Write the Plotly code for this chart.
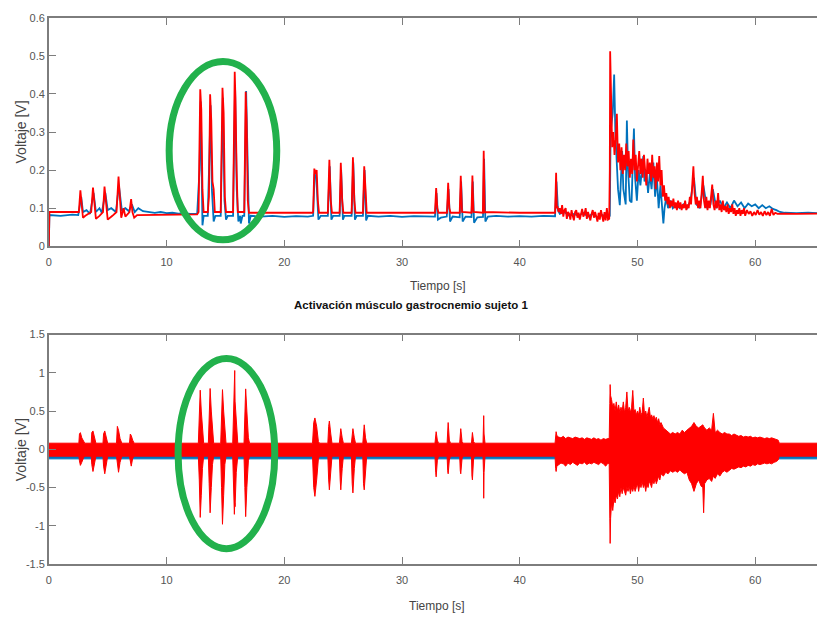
import plotly.graph_objects as go

# ---------------- data ----------------
x_ticks = [0, 10, 20, 30, 40, 50, 60]
y_ticks_top = [0, 0.1, 0.2, 0.3, 0.4, 0.5, 0.6]
y_ticks_bot = [-1.5, -1, -0.5, 0, 0.5, 1, 1.5]
y_ticks_bot_text = ["-1.5", "-1", "-0.5", "0", "0.5", "1", "1.5"]

# top panel, red signal (time s, voltage V)
top_red = [
    (0, 0), (0.05, 0.09), (1.0, 0.09), (2.0, 0.09), (2.5, 0.09),
    (2.55, 0.09), (2.68, 0.147), (2.8, 0.10), (2.9, 0.075), (3.1, 0.08), (3.4, 0.085),
    (3.6, 0.09), (3.75, 0.154), (3.9, 0.10), (4.0, 0.072), (4.3, 0.08), (4.55, 0.088),
    (4.6, 0.09), (4.73, 0.157), (4.88, 0.10), (5.0, 0.07), (5.4, 0.08), (5.75, 0.09),
    (5.92, 0.183), (6.05, 0.11), (6.15, 0.075), (6.35, 0.10), (6.5, 0.078), (6.85, 0.09),
    (6.99, 0.124), (7.1, 0.09), (7.25, 0.075), (7.5, 0.082), (9.0, 0.083), (11.0, 0.083), (12.6, 0.084),
    (12.72, 0.09), (12.86, 0.412), (12.95, 0.36), (13.05, 0.15), (13.15, 0.09), (13.5, 0.09),
    (13.6, 0.13), (13.7, 0.399), (13.8, 0.33), (13.9, 0.17), (14.0, 0.15), (14.1, 0.09), (14.6, 0.09),
    (14.75, 0.416), (14.85, 0.35), (14.95, 0.13), (15.05, 0.09), (15.65, 0.09),
    (15.79, 0.458), (15.85, 0.39), (15.95, 0.20), (16.05, 0.09), (16.6, 0.09),
    (16.72, 0.406), (16.8, 0.33), (16.9, 0.12), (17.0, 0.088), (20.0, 0.088), (22.4, 0.088),
    (22.45, 0.09), (22.55, 0.204), (22.65, 0.19), (22.75, 0.20), (22.85, 0.12), (22.95, 0.088),
    (23.7, 0.088), (23.83, 0.227), (23.95, 0.12), (24.05, 0.088),
    (24.7, 0.088), (24.8, 0.219), (24.92, 0.12), (25.02, 0.088),
    (25.72, 0.088), (25.83, 0.234), (25.95, 0.12), (26.05, 0.088),
    (26.68, 0.088), (26.79, 0.21), (26.9, 0.15), (27.0, 0.088), (30.0, 0.088), (32.8, 0.088),
    (32.9, 0.153), (33.0, 0.10), (33.1, 0.088), (33.82, 0.088), (33.92, 0.167), (34.02, 0.10), (34.12, 0.088),
    (34.9, 0.088), (34.99, 0.185), (35.1, 0.09), (35.9, 0.088), (35.98, 0.186), (36.07, 0.09),
    (36.87, 0.088), (36.94, 0.251), (37.02, 0.09), (40.0, 0.088), (43.0, 0.088),
    (43.09, 0.193), (43.15, 0.10), (43.2, 0.105), (43.3, 0.09), (43.4, 0.10), (43.5, 0.085), (43.6, 0.108),
    (43.7, 0.078), (43.8, 0.095), (43.9, 0.10), (44.0, 0.072), (44.1, 0.09), (44.2, 0.085), (44.3, 0.07),
    (44.4, 0.095), (44.5, 0.08), (44.6, 0.068), (44.7, 0.09), (44.8, 0.095), (44.9, 0.075), (45.0, 0.088),
    (45.1, 0.07), (45.2, 0.082), (45.3, 0.098), (45.4, 0.078), (45.5, 0.085), (45.6, 0.10), (45.7, 0.072),
    (45.8, 0.09), (45.9, 0.08), (46.0, 0.068), (46.1, 0.085), (46.2, 0.095), (46.3, 0.075), (46.4, 0.09),
    (46.5, 0.078), (46.6, 0.065), (46.7, 0.088), (46.8, 0.07), (46.9, 0.095), (47.0, 0.08), (47.1, 0.065),
    (47.2, 0.09), (47.3, 0.068), (47.4, 0.10), (47.5, 0.07), (47.6, 0.072),
    (47.65, 0.20), (47.68, 0.512), (47.75, 0.36), (47.85, 0.26), (47.95, 0.30), (48.05, 0.24), (48.15, 0.28),
    (48.25, 0.348), (48.35, 0.22), (48.45, 0.27), (48.55, 0.20), (48.65, 0.26), (48.75, 0.19), (48.85, 0.24),
    (48.95, 0.20), (49.05, 0.27), (49.15, 0.21), (49.25, 0.25), (49.35, 0.18), (49.45, 0.23), (49.55, 0.19),
    (49.65, 0.28), (49.75, 0.20), (49.85, 0.24), (49.95, 0.17), (50.05, 0.22), (50.15, 0.25), (50.25, 0.19),
    (50.35, 0.23), (50.45, 0.18), (50.55, 0.24), (50.65, 0.20), (50.75, 0.16), (50.85, 0.23), (50.95, 0.19),
    (51.05, 0.22), (51.15, 0.17), (51.25, 0.24), (51.35, 0.18), (51.45, 0.21), (51.55, 0.15), (51.65, 0.22),
    (51.75, 0.17), (51.85, 0.237), (51.95, 0.16), (52.05, 0.20), (52.15, 0.13), (52.25, 0.16), (52.35, 0.12),
    (52.45, 0.14), (52.55, 0.11), (52.65, 0.13), (52.75, 0.10), (52.85, 0.12), (52.95, 0.105), (53.05, 0.125),
    (53.15, 0.10), (53.25, 0.115), (53.35, 0.095), (53.45, 0.12), (53.55, 0.10), (53.65, 0.115), (53.75, 0.095),
    (53.85, 0.11), (53.95, 0.10), (54.05, 0.12), (54.15, 0.095), (54.25, 0.11), (54.35, 0.10), (54.45, 0.13),
    (54.55, 0.11), (54.65, 0.16), (54.75, 0.21), (54.85, 0.14), (54.95, 0.11), (55.05, 0.13), (55.15, 0.10),
    (55.25, 0.12), (55.35, 0.10), (55.45, 0.14), (55.55, 0.185), (55.65, 0.12), (55.75, 0.10), (55.85, 0.13),
    (55.95, 0.095), (56.05, 0.12), (56.15, 0.10), (56.25, 0.13), (56.35, 0.162), (56.45, 0.11), (56.55, 0.095),
    (56.65, 0.12), (56.75, 0.10), (56.85, 0.14), (56.95, 0.095), (57.05, 0.11), (57.15, 0.09), (57.25, 0.12),
    (57.35, 0.095), (57.45, 0.105), (57.55, 0.09), (57.65, 0.11), (57.75, 0.085), (57.85, 0.10), (57.95, 0.09),
    (58.05, 0.11), (58.15, 0.085), (58.25, 0.10), (58.35, 0.08), (58.45, 0.095), (58.55, 0.085), (58.65, 0.10),
    (58.75, 0.08), (58.85, 0.095), (58.95, 0.085), (59.05, 0.10), (59.15, 0.08), (59.3, 0.095), (59.45, 0.085),
    (59.6, 0.092), (59.75, 0.08), (59.9, 0.09), (60.05, 0.082), (60.2, 0.095), (60.35, 0.083), (60.5, 0.09),
    (60.65, 0.08), (60.8, 0.092), (60.95, 0.082), (61.1, 0.09), (61.25, 0.08), (61.4, 0.098), (61.55, 0.082),
    (61.7, 0.088), (61.9, 0.085), (62.5, 0.086), (63.5, 0.085), (65.3, 0.086),
]

# top panel, blue signal (time s, voltage V)
top_blue = [
    (0, 0), (0.05, 0.082), (1.0, 0.08), (2.0, 0.083), (2.5, 0.082), (2.6, 0.10), (2.75, 0.13), (2.9, 0.09),
    (3.2, 0.095), (3.5, 0.085), (3.8, 0.14), (4.0, 0.09), (4.3, 0.10), (4.5, 0.088), (4.8, 0.14), (5.0, 0.095),
    (5.3, 0.10), (5.7, 0.09), (5.95, 0.16), (6.2, 0.095), (6.5, 0.10), (6.8, 0.092), (7.05, 0.11), (7.3, 0.09),
    (7.6, 0.10), (8.0, 0.092), (8.5, 0.09), (9.0, 0.088), (9.5, 0.09), (10.0, 0.087), (10.5, 0.088),
    (11.0, 0.086), (11.5, 0.087), (12.0, 0.085), (12.6, 0.085), (12.8, 0.20), (12.9, 0.38), (13.0, 0.15),
    (13.05, 0.055), (13.15, 0.08), (13.5, 0.08), (13.65, 0.25), (13.74, 0.37), (13.85, 0.15), (14.0, 0.065),
    (14.15, 0.08), (14.6, 0.08), (14.78, 0.39), (14.92, 0.12), (15.05, 0.07), (15.2, 0.08), (15.65, 0.08),
    (15.82, 0.42), (15.96, 0.15), (16.1, 0.065), (16.25, 0.08), (16.3, 0.06), (16.45, 0.08), (16.6, 0.08),
    (16.76, 0.408), (16.9, 0.14), (17.0, 0.06), (17.15, 0.08), (18.0, 0.078), (19.0, 0.08), (20.0, 0.077),
    (21.0, 0.079), (22.0, 0.078), (22.45, 0.08), (22.58, 0.19), (22.72, 0.18), (22.9, 0.07), (23.1, 0.08),
    (23.7, 0.08), (23.86, 0.21), (24.0, 0.07), (24.15, 0.08), (24.7, 0.08), (24.83, 0.20), (24.98, 0.07),
    (25.1, 0.08), (25.72, 0.08), (25.86, 0.22), (26.0, 0.07), (26.15, 0.08), (26.68, 0.08), (26.82, 0.20),
    (26.95, 0.068), (27.1, 0.08), (28.0, 0.078), (29.0, 0.08), (30.0, 0.077), (31.0, 0.079), (32.0, 0.078),
    (32.8, 0.078), (32.93, 0.14), (33.05, 0.07), (33.3, 0.075), (33.8, 0.078), (33.95, 0.15), (34.08, 0.065),
    (34.3, 0.078), (34.9, 0.076), (35.02, 0.17), (35.15, 0.065), (35.4, 0.078), (35.9, 0.077), (36.01, 0.17),
    (36.12, 0.062), (36.4, 0.076), (36.88, 0.077), (36.97, 0.23), (37.08, 0.065), (37.3, 0.078), (38.0, 0.08),
    (39.0, 0.078), (40.0, 0.079), (41.0, 0.078), (42.0, 0.08), (43.0, 0.079), (43.12, 0.17), (43.25, 0.095),
    (43.4, 0.085), (43.8, 0.09), (44.2, 0.08), (44.6, 0.085), (45.0, 0.08), (45.4, 0.088), (45.8, 0.078),
    (46.2, 0.085), (46.6, 0.075), (47.0, 0.082), (47.4, 0.078), (47.65, 0.08), (47.72, 0.30), (47.9, 0.35),
    (48.02, 0.451), (48.12, 0.30), (48.25, 0.20), (48.35, 0.15), (48.5, 0.108), (48.6, 0.20), (48.7, 0.25),
    (48.8, 0.15), (49.0, 0.11), (49.1, 0.33), (49.2, 0.20), (49.35, 0.12), (49.5, 0.115), (49.6, 0.22),
    (49.7, 0.309), (49.8, 0.18), (49.95, 0.12), (50.1, 0.20), (50.25, 0.16), (50.4, 0.21), (50.5, 0.237),
    (50.6, 0.17), (50.75, 0.20), (50.9, 0.14), (51.05, 0.19), (51.2, 0.15), (51.35, 0.22), (51.5, 0.13),
    (51.65, 0.18), (51.8, 0.10), (51.95, 0.16), (52.05, 0.12), (52.2, 0.06), (52.3, 0.10), (52.45, 0.13),
    (52.6, 0.10), (52.8, 0.12), (53.0, 0.10), (53.3, 0.11), (53.6, 0.10), (53.9, 0.11), (54.2, 0.10),
    (54.5, 0.12), (54.8, 0.18), (55.0, 0.11), (55.3, 0.10), (55.6, 0.16), (55.9, 0.10), (56.2, 0.11),
    (56.4, 0.15), (56.7, 0.10), (57.0, 0.12), (57.3, 0.10), (57.6, 0.115), (57.9, 0.10), (58.2, 0.12),
    (58.5, 0.105), (58.8, 0.115), (59.1, 0.10), (59.4, 0.112), (59.7, 0.105), (60.0, 0.11), (60.3, 0.10),
    (60.6, 0.108), (60.9, 0.10), (61.2, 0.105), (61.5, 0.098), (61.8, 0.095), (62.1, 0.09), (62.5, 0.088),
    (63.5, 0.087), (64.5, 0.088), (65.3, 0.087),
]

# bottom panel, red raw EMG band: (time s, upper V, lower V)
bot_red = [
    (0, 0.08, -0.09), (2.55, 0.08, -0.09), (2.6, 0.20, -0.15), (2.68, 0.218, -0.21), (2.8, 0.15, -0.17),
    (2.95, 0.10, -0.11), (3.05, 0.08, -0.09), (3.6, 0.08, -0.09), (3.65, 0.22, -0.20), (3.75, 0.24, -0.29),
    (3.9, 0.15, -0.18), (4.0, 0.08, -0.09), (4.6, 0.08, -0.09), (4.65, 0.20, -0.22), (4.75, 0.24, -0.32),
    (4.9, 0.14, -0.18), (5.0, 0.08, -0.09), (5.75, 0.08, -0.09), (5.82, 0.30, -0.20), (5.92, 0.25, -0.30),
    (6.05, 0.14, -0.17), (6.2, 0.08, -0.09), (6.85, 0.08, -0.09), (6.92, 0.20, -0.15), (7.0, 0.18, -0.22),
    (7.12, 0.12, -0.12), (7.25, 0.08, -0.09), (12.7, 0.08, -0.09), (12.78, 0.40, -0.40), (12.86, 0.773, -0.89),
    (12.95, 0.50, -0.60), (13.05, 0.20, -0.25), (13.15, 0.08, -0.09), (13.55, 0.08, -0.09), (13.62, 0.45, -0.45),
    (13.7, 0.795, -0.83), (13.8, 0.50, -0.50), (13.9, 0.20, -0.20), (14.0, 0.08, -0.09), (14.6, 0.08, -0.09),
    (14.67, 0.45, -0.50), (14.75, 0.78, -0.98), (14.85, 0.50, -0.60), (14.95, 0.20, -0.20), (15.05, 0.08, -0.09),
    (15.62, 0.08, -0.09), (15.7, 0.45, -0.50), (15.76, 0.63, -0.85), (15.79, 1.03, -0.70), (15.82, 0.63, -0.75),
    (15.92, 0.30, -0.30), (16.05, 0.08, -0.09), (16.58, 0.08, -0.09), (16.65, 0.50, -0.50), (16.72, 0.79, -0.88),
    (16.82, 0.50, -0.50), (16.95, 0.15, -0.15), (17.05, 0.08, -0.09), (22.4, 0.08, -0.09), (22.5, 0.35, -0.50),
    (22.6, 0.41, -0.615), (22.75, 0.30, -0.40), (22.9, 0.10, -0.12), (23.0, 0.08, -0.09), (23.7, 0.08, -0.09),
    (23.77, 0.30, -0.40), (23.83, 0.37, -0.53), (23.95, 0.20, -0.30), (24.05, 0.08, -0.09), (24.68, 0.08, -0.09),
    (24.75, 0.25, -0.40), (24.8, 0.27, -0.53), (24.92, 0.15, -0.25), (25.02, 0.08, -0.09), (25.7, 0.08, -0.09),
    (25.77, 0.25, -0.45), (25.83, 0.27, -0.57), (25.95, 0.15, -0.25), (26.05, 0.08, -0.09), (26.67, 0.08, -0.09),
    (26.73, 0.30, -0.45), (26.79, 0.32, -0.53), (26.9, 0.15, -0.25), (27.0, 0.08, -0.09), (32.8, 0.08, -0.09),
    (32.86, 0.20, -0.30), (32.9, 0.23, -0.36), (33.0, 0.12, -0.15), (33.1, 0.08, -0.09), (33.83, 0.08, -0.09),
    (33.88, 0.30, -0.28), (33.92, 0.35, -0.32), (34.02, 0.12, -0.14), (34.12, 0.08, -0.09), (34.9, 0.08, -0.09),
    (34.95, 0.25, -0.28), (34.99, 0.27, -0.32), (35.1, 0.10, -0.12), (35.2, 0.08, -0.09), (35.9, 0.08, -0.09),
    (35.94, 0.20, -0.35), (35.98, 0.22, -0.40), (36.08, 0.10, -0.12), (36.18, 0.08, -0.09), (36.88, 0.08, -0.09),
    (36.92, 0.25, -0.30), (36.94, 0.44, -0.64), (36.97, 0.20, -0.30), (37.05, 0.08, -0.09), (43.0, 0.08, -0.09),
    (43.05, 0.20, -0.25), (43.09, 0.23, -0.29), (43.15, 0.18, -0.22), (43.3, 0.16, -0.20), (43.5, 0.15, -0.18),
    (43.7, 0.17, -0.19), (43.9, 0.14, -0.22), (44.1, 0.16, -0.18), (44.3, 0.15, -0.20), (44.5, 0.14, -0.17),
    (44.7, 0.16, -0.19), (44.9, 0.15, -0.21), (45.1, 0.14, -0.18), (45.3, 0.15, -0.19), (45.5, 0.13, -0.17),
    (45.7, 0.15, -0.20), (45.9, 0.14, -0.18), (46.1, 0.13, -0.19), (46.3, 0.15, -0.17), (46.5, 0.13, -0.18),
    (46.7, 0.14, -0.20), (46.9, 0.12, -0.17), (47.1, 0.14, -0.19), (47.3, 0.13, -0.22), (47.5, 0.14, -0.18),
    (47.6, 0.14, -0.20), (47.65, 0.60, -0.90), (47.68, 0.846, -1.23), (47.72, 0.70, -0.90), (47.8, 0.65, -0.70),
    (47.9, 0.55, -0.80), (48.0, 0.60, -0.65), (48.1, 0.50, -0.70), (48.2, 0.62, -0.60), (48.3, 0.50, -0.65),
    (48.4, 0.58, -0.55), (48.5, 0.48, -0.62), (48.6, 0.55, -0.50), (48.7, 0.50, -0.58), (48.8, 0.62, -0.50),
    (48.9, 0.48, -0.55), (49.0, 0.55, -0.60), (49.1, 0.75, -0.50), (49.2, 0.50, -0.55), (49.3, 0.55, -0.48),
    (49.4, 0.48, -0.58), (49.5, 0.55, -0.50), (49.6, 0.77, -0.55), (49.7, 0.50, -0.48), (49.8, 0.52, -0.55),
    (49.9, 0.45, -0.50), (50.0, 0.50, -0.45), (50.1, 0.45, -0.55), (50.2, 0.55, -0.45), (50.3, 0.45, -0.50),
    (50.4, 0.48, -0.42), (50.5, 0.67, -0.50), (50.6, 0.45, -0.45), (50.7, 0.50, -0.55), (50.8, 0.42, -0.45),
    (50.9, 0.48, -0.50), (51.0, 0.55, -0.42), (51.1, 0.42, -0.45), (51.2, 0.45, -0.50), (51.3, 0.40, -0.40),
    (51.4, 0.44, -0.45), (51.5, 0.38, -0.38), (51.6, 0.42, -0.45), (51.7, 0.35, -0.40), (51.8, 0.40, -0.35),
    (51.9, 0.32, -0.40), (52.0, 0.35, -0.32), (52.2, 0.28, -0.35), (52.4, 0.25, -0.30), (52.6, 0.22, -0.32),
    (52.8, 0.20, -0.28), (53.0, 0.22, -0.30), (53.2, 0.20, -0.28), (53.4, 0.22, -0.30), (53.6, 0.20, -0.27),
    (53.8, 0.25, -0.30), (54.0, 0.22, -0.32), (54.2, 0.25, -0.30), (54.4, 0.28, -0.40), (54.6, 0.30, -0.45),
    (54.8, 0.35, -0.55), (55.0, 0.30, -0.45), (55.2, 0.28, -0.40), (55.4, 0.30, -0.48), (55.55, 0.32, -0.50),
    (55.62, 0.30, -0.83), (55.7, 0.28, -0.45), (55.9, 0.25, -0.40), (56.1, 0.28, -0.38), (56.3, 0.25, -0.42),
    (56.45, 0.47, -0.35), (56.6, 0.22, -0.38), (56.8, 0.25, -0.32), (57.0, 0.22, -0.35), (57.2, 0.20, -0.30),
    (57.4, 0.22, -0.28), (57.6, 0.20, -0.30), (57.8, 0.20, -0.27), (58.0, 0.18, -0.25), (58.2, 0.20, -0.26),
    (58.4, 0.18, -0.24), (58.6, 0.17, -0.23), (58.8, 0.18, -0.24), (59.0, 0.16, -0.22), (59.2, 0.17, -0.23),
    (59.4, 0.16, -0.21), (59.6, 0.17, -0.22), (59.8, 0.15, -0.20), (60.0, 0.16, -0.21), (60.2, 0.15, -0.19),
    (60.4, 0.16, -0.20), (60.6, 0.15, -0.19), (60.8, 0.14, -0.18), (61.0, 0.15, -0.19), (61.2, 0.14, -0.18),
    (61.4, 0.15, -0.19), (61.6, 0.14, -0.17), (61.8, 0.13, -0.16), (61.95, 0.12, -0.14), (62.05, 0.08, -0.09),
    (65.3, 0.08, -0.09),
]

# bottom panel, blue raw EMG band: (time s, upper V, lower V)
bot_blue = [(0, 0.02, -0.125), (65.3, 0.02, -0.125)]

# ---------------- figure ----------------
W, H = 817, 624
RED = "#ff0000"
BLUE = "#0072bd"
GREEN = "rgb(34,177,76)"
FONT = "Liberation Sans Narrow, Liberation Sans, Arial, sans-serif"

fig = go.Figure()

fig.add_trace(go.Scatter(x=[p[0] for p in top_blue], y=[p[1] for p in top_blue],
                         mode="lines", line=dict(color=BLUE, width=1.8),
                         xaxis="x", yaxis="y", showlegend=False))
fig.add_trace(go.Scatter(x=[p[0] for p in top_red], y=[p[1] for p in top_red],
                         mode="lines", line=dict(color=RED, width=1.8),
                         xaxis="x", yaxis="y", showlegend=False))

bt = [p[0] for p in bot_blue]
fig.add_trace(go.Scatter(x=bt + bt[::-1],
                         y=[p[1] for p in bot_blue] + [p[2] for p in bot_blue][::-1],
                         mode="lines", fill="toself", fillcolor=BLUE,
                         line=dict(color=BLUE, width=1),
                         xaxis="x2", yaxis="y2", showlegend=False))
rt = [p[0] for p in bot_red]
fig.add_trace(go.Scatter(x=rt + rt[::-1],
                         y=[p[1] for p in bot_red] + [p[2] for p in bot_red][::-1],
                         mode="lines", fill="toself", fillcolor=RED,
                         line=dict(color=RED, width=1),
                         xaxis="x2", yaxis="y2", showlegend=False))

x_left = 46 / W
axis_common = dict(showline=True, linecolor="#7d7d7d", linewidth=1.5,
                   ticks="inside", ticklen=7, tickcolor="#7d7d7d", tickwidth=1,
                   showgrid=False, zeroline=False,
                   tickfont=dict(family=FONT, size=11, color="#555555"))

fig.update_layout(
    width=W, height=H,
    margin=dict(l=0, r=0, t=0, b=0),
    paper_bgcolor="white", plot_bgcolor="white",
    xaxis=dict(domain=[x_left, 1], range=[0, 65.25], tickvals=x_ticks, anchor="y",
               mirror="ticks", ticklabelstandoff=5, **axis_common),
    yaxis=dict(domain=[1 - 245 / H, 1 - 12 / H], range=[0, 0.6], tickvals=y_ticks_top,
               anchor="x", **axis_common),
    xaxis2=dict(domain=[x_left, 1], range=[0, 65.25], tickvals=x_ticks, anchor="y2",
                mirror="ticks", ticklabelstandoff=5, **axis_common),
    yaxis2=dict(domain=[1 - 569 / H, 1 - 335 / H], range=[-1.5, 1.5], tickvals=y_ticks_bot,
                ticktext=y_ticks_bot_text, anchor="x2", **axis_common),
)

# axis titles and panel title
def ann(text, xpx, ypx, size, bold=False, angle=0, color="#444444"):
    fig.add_annotation(text=("<b>%s</b>" % text) if bold else text,
                       x=xpx / W, y=1 - ypx / H, xref="paper", yref="paper",
                       showarrow=False, textangle=angle,
                       font=dict(family=FONT, size=size, color=color),
                       xanchor="center", yanchor="middle")

ann("Tiempo [s]", 437, 286, 12)
ann("Tiempo [s]", 436, 612, 12)
ann("Activación músculo gastrocnemio sujeto 1", 410, 305, 11.5, bold=True, color="#111111")
ann("Voltaje [V]", 18, 128, 14, angle=-90)
ann("Voltaje [V]", 18, 452, 14, angle=-90)

# green ellipses highlighting the bursts
fig.add_shape(type="circle", xref="x", yref="y", x0=10.22, x1=19.36, y0=0.017, y1=0.485,
              line=dict(color=GREEN, width=7))
fig.add_shape(type="circle", xref="x2", yref="y2", x0=10.98, x1=19.19, y0=-1.30, y1=1.186,
              line=dict(color=GREEN, width=7))

fig.write_html("out.html",
               config={"displayModeBar": False},
               post_script="document.body.style.margin='0';document.body.style.overflow='hidden';")
